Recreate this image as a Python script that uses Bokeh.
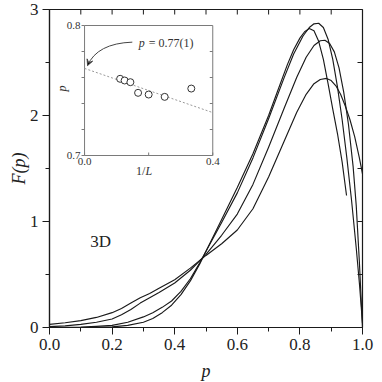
import numpy as np
from bokeh.plotting import figure
from bokeh.models import (Range1d, FixedTicker, PrintfTickFormatter, Whisker,
                          ColumnDataSource, Arrow, VeeHead, TeeHead)
from bokeh.core.properties import value
from bokeh.embed import file_html
from bokeh.resources import INLINE

# ---------------- data: main panel F(p) curves ----------------
a_x = [0.0, 0.1, 0.15, 0.2, 0.25, 0.3, 0.33, 0.36, 0.39, 0.42, 0.45, 0.48, 0.5, 0.55, 0.6,
       0.65, 0.7, 0.73, 0.76, 0.78, 0.8, 0.815, 0.83, 0.845, 0.86, 0.875, 0.89, 0.905, 0.92,
       0.935, 0.949]
a_y = [0.0, 0.0, 0.002, 0.006, 0.02, 0.05, 0.085, 0.14, 0.21, 0.31, 0.44, 0.60, 0.72, 1.02, 1.32,
       1.64, 2.0, 2.24, 2.48, 2.62, 2.73, 2.79, 2.82, 2.80, 2.70, 2.53, 2.30, 2.06, 1.83,
       1.56, 1.245]

b_x = [0.0, 0.1, 0.15, 0.2, 0.25, 0.3, 0.33, 0.36, 0.39, 0.42, 0.45, 0.48, 0.5, 0.55, 0.6,
       0.65, 0.7, 0.75, 0.78, 0.81, 0.83, 0.845, 0.86, 0.875, 0.89, 0.905, 0.92, 0.935, 0.95,
       0.965, 0.98, 0.99, 1.0]
b_y = [0.0, 0.003, 0.01, 0.02, 0.05, 0.10, 0.14, 0.19, 0.25, 0.34, 0.46, 0.61, 0.72, 0.99, 1.27,
       1.6, 1.97, 2.36, 2.58, 2.75, 2.83, 2.865, 2.87, 2.83, 2.72, 2.53, 2.27, 1.96, 1.6,
       1.2, 0.75, 0.42, 0.04]

c_x = [0.0, 0.05, 0.1, 0.15, 0.2, 0.23, 0.26, 0.29, 0.32, 0.35, 0.4, 0.45, 0.5, 0.55, 0.6,
       0.65, 0.7, 0.75, 0.79, 0.82, 0.845, 0.865, 0.88, 0.895, 0.91, 0.925, 0.94, 0.955, 0.97,
       0.98, 0.99, 1.0]
c_y = [0.008, 0.015, 0.03, 0.05, 0.08, 0.12, 0.17, 0.23, 0.28, 0.33, 0.42, 0.54, 0.69, 0.87, 1.07,
       1.35, 1.7, 2.07, 2.36, 2.55, 2.66, 2.705, 2.71, 2.68, 2.6, 2.45, 2.22, 1.92, 1.52,
       1.15, 0.62, 0.0]

d_x = [0.0, 0.05, 0.1, 0.15, 0.2, 0.23, 0.26, 0.29, 0.32, 0.35, 0.4, 0.45, 0.5, 0.55, 0.6,
       0.65, 0.7, 0.75, 0.79, 0.82, 0.845, 0.865, 0.885, 0.9, 0.915, 0.93, 0.945, 0.96, 0.975,
       0.99, 1.0]
d_y = [0.03, 0.045, 0.065, 0.095, 0.14, 0.18, 0.23, 0.28, 0.32, 0.37, 0.45, 0.56, 0.68, 0.79, 0.92,
       1.12, 1.42, 1.76, 2.03, 2.2, 2.3, 2.34, 2.35, 2.33, 2.28, 2.2, 2.09, 1.96, 1.8,
       1.6, 1.45]

x_ticks = [0.0, 0.2, 0.4, 0.6, 0.8, 1.0]
x_minor = [0.1, 0.3, 0.5, 0.7, 0.9]
y_ticks = [0, 1, 2, 3]
y_minor = [0.5, 1.5, 2.5]
top_ticks = [0.1, 0.2, 0.3, 0.4, 0.5, 0.6, 0.7, 0.8, 0.9]
right_ticks = [0.5, 1.0, 1.5, 2.0, 2.5]

# ---------------- data: inset p(1/L) ----------------
inv_L = [0.111, 0.125, 0.143, 0.167, 0.200, 0.250, 0.333]
p_L = [0.759, 0.7577, 0.7564, 0.7482, 0.7469, 0.7451, 0.7515]
p_err = [0.0096, 0.003, 0.003, 0.0, 0.0, 0.0, 0.0]
fit_x = [0.0, 0.4]
fit_y = [0.767, 0.733]
inset_x_labeled = [0.0, 0.4]
inset_x_ticks = [0.0, 0.2, 0.4]
inset_y_labeled = [0.7, 0.8]
inset_y_ticks = [0.72, 0.74, 0.76, 0.78]

SERIF = "Liberation Serif"
INK = "#1a1a1a"

p = figure(frame_width=313, frame_height=318, x_range=Range1d(0, 1), y_range=Range1d(0, 3),
           output_backend="svg", toolbar_location=None,
           min_border_left=49, min_border_top=9, min_border_right=13, min_border_bottom=10)
p.grid.visible = False
p.outline_line_color = INK
p.outline_line_width = 1.2
p.background_fill_color = "white"

p.xaxis.ticker = FixedTicker(ticks=x_ticks, minor_ticks=x_minor)
p.yaxis.ticker = FixedTicker(ticks=y_ticks, minor_ticks=y_minor)
p.xaxis.formatter = PrintfTickFormatter(format="%.1f")
for ax in (p.xaxis[0], p.yaxis[0]):
    ax.axis_line_color = INK
    ax.axis_line_width = 1.2
    ax.major_tick_line_color = INK
    ax.minor_tick_line_color = INK
    ax.major_tick_out = 7
    ax.major_tick_in = 0
    ax.minor_tick_out = 4
    ax.minor_tick_in = 0
    ax.major_label_text_font = SERIF
    ax.major_label_text_font_size = "17px"
    ax.major_label_text_color = "#222"
    ax.axis_label_text_font = SERIF
    ax.axis_label_text_font_size = "18px"
    ax.axis_label_text_font_style = "italic"
    ax.axis_label_text_color = "#222"
p.xaxis.axis_label = "p"
p.yaxis.axis_label = "F(p)"
p.xaxis.major_label_standoff = 4
p.xaxis.axis_label_standoff = 8
p.yaxis.major_label_standoff = 4
p.yaxis.axis_label_standoff = -2

# inward ticks on top and right
p.ray(x=top_ticks, y=3, length=5, angle=-np.pi / 2, length_units="screen",
      line_color=INK, line_width=1)
p.ray(x=1.0, y=right_ticks, length=5, angle=np.pi, length_units="screen",
      line_color=INK, line_width=1)

for xs, ys in ((d_x, d_y), (c_x, c_y), (b_x, b_y), (a_x, a_y)):
    p.line(xs, ys, line_color=INK, line_width=1.15, line_join="round")

p.text(x=[0.163], y=[0.81], text=["3D"], text_font=value(SERIF), text_font_size="17px",
       text_align="center", text_baseline="middle", text_color="#222")

# ---------------- inset (drawn through its own extra ranges) ----------------
p.extra_x_ranges = {"ix": Range1d(-0.109375, 0.8672)}
p.extra_y_ranges = {"iy": Range1d(0.56769, 0.81231)}
IX, IY = "ix", "iy"
GRAY = "#7a7a7a"

p.quad(left=[0.0], right=[0.4], bottom=[0.7], top=[0.8], fill_color="white",
       line_color=GRAY, line_width=1, x_range_name=IX, y_range_name=IY)
p.ray(x=0.0, y=inset_y_ticks + inset_y_labeled, length=3, angle=np.pi, length_units="screen",
      line_color=GRAY, x_range_name=IX, y_range_name=IY)
p.ray(x=0.4, y=inset_y_ticks, length=3, angle=np.pi, length_units="screen",
      line_color=GRAY, x_range_name=IX, y_range_name=IY)
p.ray(x=inset_x_ticks, y=0.7, length=3, angle=np.pi / 2, length_units="screen",
      line_color=GRAY, x_range_name=IX, y_range_name=IY)

p.line(fit_x, fit_y, line_color="#9a9a9a", line_width=1, line_dash="2 2",
       x_range_name=IX, y_range_name=IY)

src = ColumnDataSource(dict(x=inv_L, y=p_L,
                            lo=[v - e for v, e in zip(p_L, p_err)],
                            hi=[v + e for v, e in zip(p_L, p_err)]))
w = Whisker(source=src, base="x", lower="lo", upper="hi", dimension="height",
            line_color="#555", line_width=1,
            upper_head=TeeHead(size=4, line_color="#555"),
            lower_head=TeeHead(size=4, line_color="#555"),
            x_range_name=IX, y_range_name=IY)
p.add_layout(w)
p.scatter("x", "y", source=src, size=7, marker="circle", fill_color="white",
          line_color="#333", line_width=1, x_range_name=IX, y_range_name=IY)

# inset texts
p.text(x=[0.0, 0.0], y=inset_y_labeled, text=["0.7", "0.8"], x_offset=-4,
       text_font=value(SERIF), text_font_size="11px", text_align="right",
       text_baseline="middle", text_color="#333", x_range_name=IX, y_range_name=IY)
p.text(x=inset_x_labeled, y=[0.7, 0.7], text=["0.0", "0.4"], y_offset=2,
       text_font=value(SERIF), text_font_size="11px", text_align="center",
       text_baseline="top", text_color="#333", x_range_name=IX, y_range_name=IY)
p.text(x=[0.19], y=[0.6877], text=["1/"], text_font=value(SERIF), text_font_size="12px",
       text_align="right", text_baseline="middle", text_color="#333",
       x_range_name=IX, y_range_name=IY)
p.text(x=[0.19], y=[0.6877], text=["L"], text_font=value(SERIF), text_font_size="12px",
       text_font_style="italic", text_align="left", text_baseline="middle", text_color="#333",
       x_range_name=IX, y_range_name=IY)
p.text(x=[-0.069], y=[0.7515], text=["p"], angle=np.pi / 2, text_font=value(SERIF),
       text_font_size="12px", text_font_style="italic", text_align="center",
       text_baseline="middle", text_color="#333", x_range_name=IX, y_range_name=IY)
p.text(x=[0.169], y=[0.7862], text=["p"], text_font=value(SERIF), text_font_size="12px",
       text_font_style="italic", text_align="left", text_baseline="middle", text_color="#333",
       x_range_name=IX, y_range_name=IY)
p.text(x=[0.2], y=[0.7862], text=["= 0.77(1)"], text_font=value(SERIF), text_font_size="12px",
       text_align="left", text_baseline="middle", text_color="#333",
       x_range_name=IX, y_range_name=IY)

# curved arrow pointing to the extrapolated value
p.quadratic(x0=[0.149], y0=[0.7872], x1=[0.0094], y1=[0.7692], cx=[0.039], cy=[0.7862],
            line_color="#444", line_width=1, x_range_name=IX, y_range_name=IY)
p.add_layout(Arrow(end=VeeHead(size=6, line_color="#444", line_width=1),
                   x_start=0.0131, y_start=0.7714, x_end=0.0094, y_end=0.7692,
                   line_color="#444", line_width=1, x_range_name=IX, y_range_name=IY))

open("out.html", "w").write(file_html(p, INLINE))
